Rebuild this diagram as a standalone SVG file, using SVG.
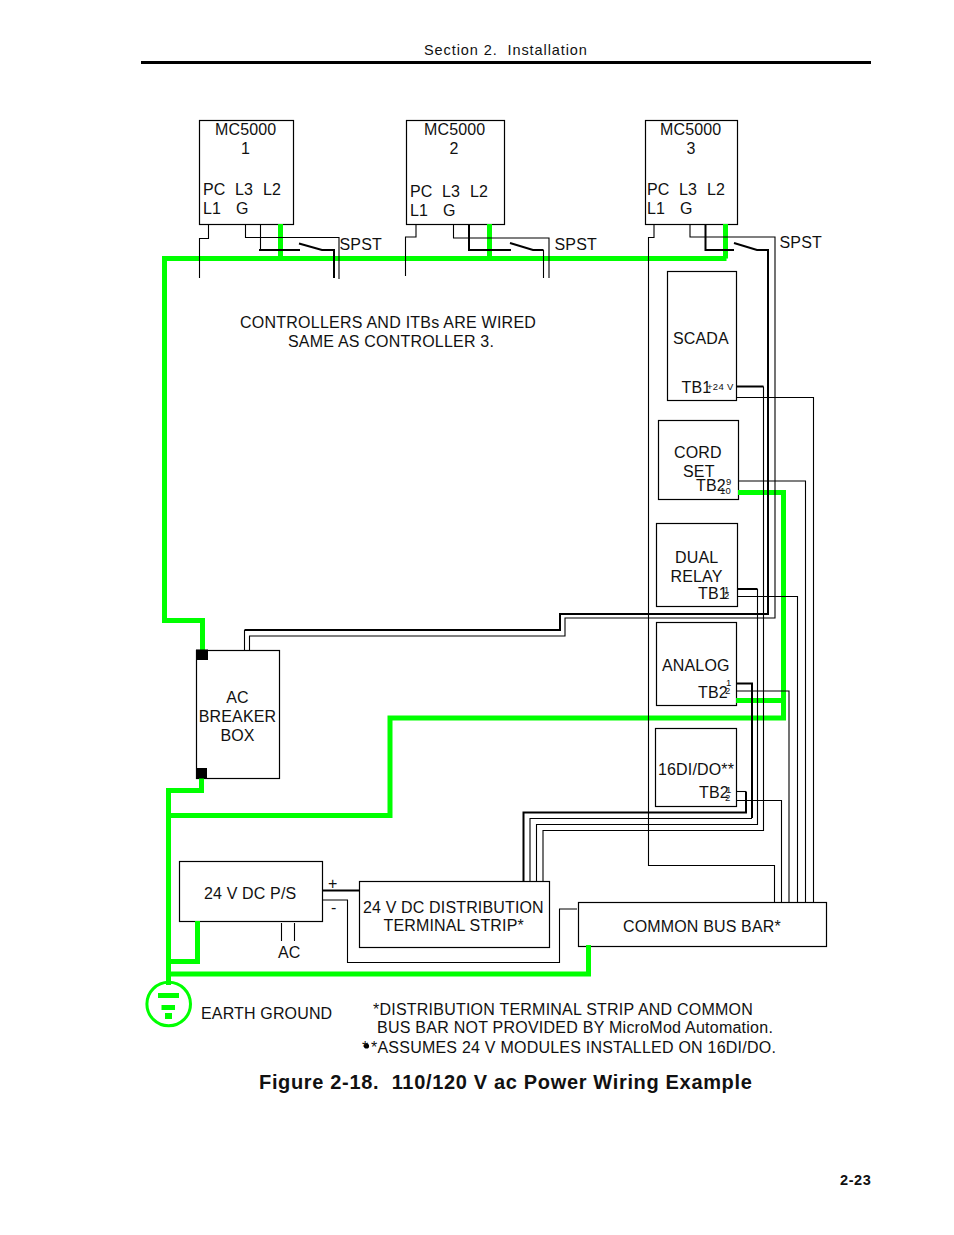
<svg xmlns="http://www.w3.org/2000/svg" width="954" height="1235" viewBox="0 0 954 1235">
<style>
text{font-family:"Liberation Sans",Arial,sans-serif;font-size:16px;fill:#111;letter-spacing:.15px;white-space:pre}
.m{text-anchor:middle}
.s{font-size:9.5px;letter-spacing:.3px}
.b{font-weight:bold}
.box{fill:#fff;stroke:#000;stroke-width:1.2}
.t{fill:none;stroke:#000;stroke-width:1.1}
.k{fill:none;stroke:#000;stroke-width:2}
.g{fill:none;stroke:#0f0;stroke-width:5}
</style>
<rect width="954" height="1235" fill="#fff"/>
<g id="header">
<text x="424" y="55" style="font-size:14.5px" textLength="163">Section 2.  Installation</text>
<line x1="141" y1="62.5" x2="871" y2="62.5" stroke="#000" stroke-width="3"/>
</g>
<g id="mc1"><rect class="box" x="199.5" y="120.5" width="94" height="104"/>
<text x="215" y="135">MC5000</text><text x="245.5" y="154" class="m">1</text>
<text x="203" y="195">PC</text><text x="235" y="195">L3</text><text x="263" y="195">L2</text>
<text x="203" y="214">L1</text><text x="236" y="214">G</text></g>
<g id="mc2"><rect class="box" x="406.5" y="120.5" width="98" height="104"/>
<text x="424" y="135">MC5000</text><text x="454" y="154" class="m">2</text>
<text x="410" y="197">PC</text><text x="442" y="197">L3</text><text x="470" y="197">L2</text>
<text x="410" y="216">L1</text><text x="443" y="216">G</text></g>
<g id="mc3"><rect class="box" x="645.5" y="120.5" width="92" height="104"/>
<text x="660" y="135">MC5000</text><text x="691" y="154" class="m">3</text>
<text x="647" y="195">PC</text><text x="679" y="195">L3</text><text x="707" y="195">L2</text>
<text x="647" y="214">L1</text><text x="680" y="214">G</text></g>
<g id="scada"><rect class="box" x="667.5" y="271.5" width="69" height="129"/>
<text x="673" y="344">SCADA</text><text x="681.5" y="393">TB1</text><text x="707" y="389.5" class="s">+24 V</text></g>
<g id="cord-set"><rect class="box" x="658.5" y="420.5" width="80" height="79"/>
<text x="674" y="458">CORD</text><text x="683" y="477">SET</text><text x="696" y="491">TB2</text>
<text x="726" y="485" class="s">9</text><text x="720" y="494" class="s">10</text></g>
<g id="dual-relay"><rect class="box" x="656.5" y="523.5" width="81" height="83"/>
<text x="675" y="563">DUAL</text><text x="670.5" y="582">RELAY</text><text x="698" y="599">TB1</text>
<text x="724" y="593" class="s">1</text><text x="724" y="599" class="s">2</text></g>
<g id="analog"><rect class="box" x="656.5" y="622.5" width="80" height="83"/>
<text x="662" y="671">ANALOG</text><text x="698" y="698">TB2</text>
<text x="726" y="686" class="s">1</text><text x="725" y="694" class="s">2</text></g>
<g id="di-do"><rect class="box" x="655.5" y="728.5" width="81" height="78"/>
<text x="658" y="775">16DI/DO**</text><text x="699" y="798">TB2</text>
<text x="726" y="793" class="s">1</text><text x="725" y="801" class="s">2</text></g>
<g id="ac-breaker"><rect class="box" x="196.5" y="650.5" width="83" height="128"/>
<text x="237.5" y="703" class="m">AC</text><text x="237.5" y="722" class="m">BREAKER</text><text x="237.5" y="741" class="m">BOX</text></g>
<g id="ps"><rect class="box" x="179.5" y="861.5" width="143" height="60"/>
<text x="204" y="899">24 V DC P/S</text></g>
<g id="dist"><rect class="box" x="359.5" y="881.5" width="190" height="66"/>
<text x="363" y="913">24 V DC DISTRIBUTION</text><text x="383.5" y="931">TERMINAL STRIP*</text></g>
<g id="bus"><rect class="box" x="578.5" y="902.5" width="248" height="44"/>
<text x="623" y="932">COMMON BUS BAR*</text></g>
<g id="connectors">
<path class="g" d="M280.5 224V258.5M489.5 224V258.5M725.5 224V258.5M726.5 258.5H164.5V620.5H202.5V650"/>
<path class="g" d="M738 492.5H783.5V718H390V815.5H168.5M736 700.5H783.5"/>
<path class="g" d="M201.5 778V790.5H168.5V985M197.5 921V961.5H168.5M588.5 945V974H168.5"/>
<path class="t" d="M208.5 224.5V238.5H199.5V278M245.5 224.5V237.5H339V279M260.5 224.5V250"/>
<path class="k" d="M259 250H300M299 243.5L322 250H334V278"/>
<path class="t" d="M416 224.5V237H405.5V276M453.5 224.5V238H549V278"/>
<path class="k" d="M469 224.5V250H511M510 243L533 250H543.5"/>
<path class="t" d="M543.5 250V278"/>
<path class="t" d="M654 224.5V237.5H648.5V865.5H774.5V902M690 224.5V237H775V618H565V636H249.5V650"/>
<path class="k" d="M705.5 224.5V250H734M734 243L757 250H768V614H560V630H244.5"/>
<path class="t" d="M244.5 630V650"/>
<path class="k" d="M736 386.5H763.5"/>
<path class="t" d="M763.5 386.5V830.5H543V881"/>
<path class="t" d="M736 397.5H813.5V902M738 481H805.5V902M737 596.5H797.5V902M736 691H789V902M736 800.5H781.5V902"/>
<path class="k" d="M737 589H757.5"/>
<path class="t" d="M757.5 589V824.5H536.5V881"/>
<path class="k" d="M736 683.5H752V818"/>
<path class="t" d="M752 818.5H530V881"/>
<path class="t" d="M736 791.5H746"/>
<path class="k" d="M746 791.5V812.5H523.5V881"/>
<path class="k" d="M322 890.5H359"/>
<path class="t" d="M322 900H347.5V962.5H559.5V909H577M281.5 923V941M294.5 923V941"/>
</g>
<g id="breaker-terminals"><rect x="196" y="649.5" width="12" height="10.5" fill="#000"/><rect x="196" y="768" width="11" height="10.5" fill="#000"/></g>
<g id="ground">
<circle cx="168.7" cy="1004" r="21.8" fill="none" stroke="#0f0" stroke-width="3"/>
<rect x="158" y="993" width="21" height="5" fill="#0f0"/><rect x="161.5" y="1005" width="13.5" height="5" fill="#0f0"/><rect x="165" y="1013" width="7" height="6" fill="#0f0"/>
<text x="201" y="1019">EARTH GROUND</text></g>
<g id="labels">
<text x="339.5" y="250">SPST</text><text x="554.5" y="250">SPST</text><text x="779.5" y="248">SPST</text>
<text x="240" y="328" textLength="296">CONTROLLERS AND ITBs ARE WIRED</text>
<text x="288" y="347" textLength="206">SAME AS CONTROLLER 3.</text>
<text x="328" y="889">+</text><text x="331" y="913">-</text><text x="278" y="958">AC</text>
<text x="373" y="1015" textLength="380">*DISTRIBUTION TERMINAL STRIP AND COMMON</text>
<text x="377" y="1033" textLength="396">BUS BAR NOT PROVIDED BY MicroMod Automation.</text>
<circle cx="366.5" cy="1046" r="2.6" fill="#000"/>
<text x="362" y="1053">*</text>
<text x="371" y="1053" textLength="405">*ASSUMES 24 V MODULES INSTALLED ON 16DI/DO.</text>
<text x="259" y="1089" class="b" style="font-size:20px" textLength="493">Figure 2-18.  110/120 V ac Power Wiring Example</text>
<text x="840" y="1185" class="b" style="font-size:14.5px" textLength="31">2-23</text>
</g>
</svg>
